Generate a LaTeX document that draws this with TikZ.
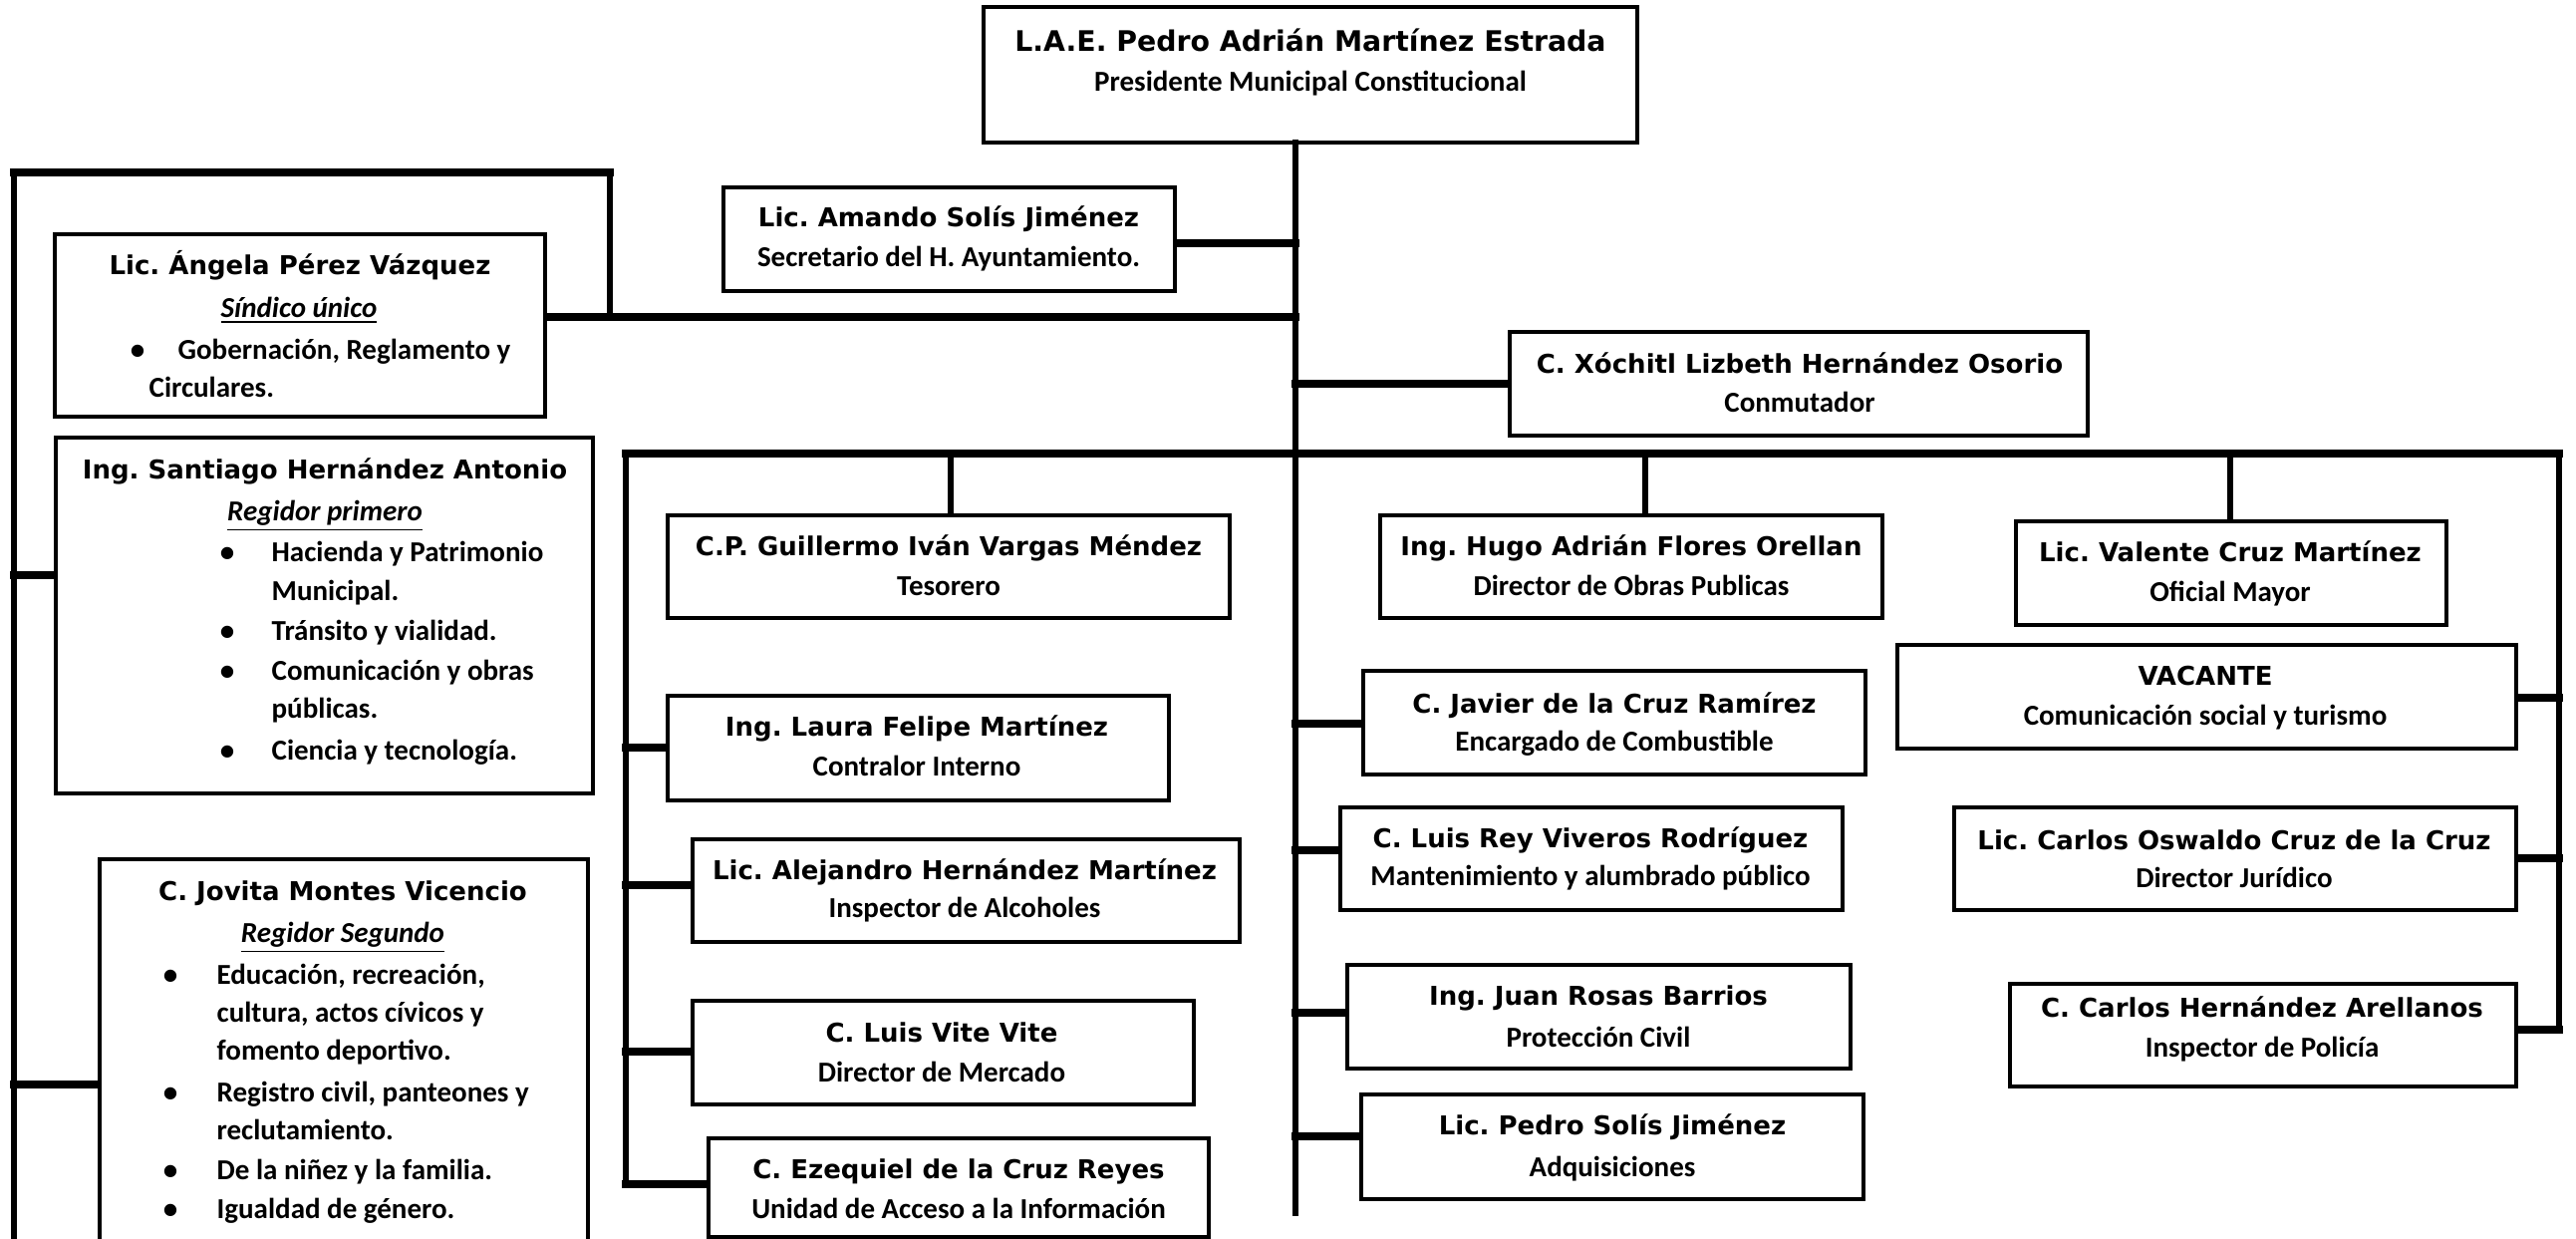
\documentclass[tikz,border=0pt]{standalone}
\usepackage{fontspec}
\setmainfont{Carlito}
\newfontfamily\namefont{DejaVu Sans}
\newcommand\Obox[5]{\node[box, minimum width={(#4-#2)*0.3pt}, minimum height={(#5-#3)*0.3pt}] (#1) at ({(#2+#4)/2},{(#3+#5)/2}) {};}
\newcommand\Oname[4]{\node[tname] (#1) at (#2,#3) {#4};}
\newcommand\Osub[4]{\node[tsub] (#1) at (#2,#3) {#4};}
\newcommand\Oitem[4]{\node[titem] (#1) at (#2,#3) {#4};}
\newcommand\Obul[3]{\node[tsub] (#1) at (#2,#3) {\textbullet};}
\begin{document}
\frenchspacing
\begin{tikzpicture}[x=0.3pt,y=-0.3pt,
  box/.style={draw, line width=1.3pt, rectangle, inner sep=0pt},
  tname/.style={font=\namefont\bfseries\fontsize{7.8}{9}\selectfont, inner sep=0pt, anchor=base},
  tsub/.style={font=\bfseries\fontsize{8.7}{10}\selectfont, inner sep=0pt, anchor=base},
  titem/.style={font=\bfseries\fontsize{8.7}{10}\selectfont, inner sep=0pt, anchor=base west},
  hl/.style={line width=2.2pt, line cap=rect},
  vl/.style={line width=1.7pt, line cap=rect}]
\fill[white] (0,0) rectangle (2585,1243);
\useasboundingbox (0,0) rectangle (2585,1243);
\clip (0,0) rectangle (2585,1243);

% ---------- boxes ----------
\Obox{pres}{987}{7}{1643}{143}
\Obox{sec}{726}{188}{1179}{292}
\Obox{sind}{55}{235}{547}{418}
\Obox{sant}{56}{439}{595}{796}
\Obox{jov}{100}{862}{590}{1262}
\Obox{xoch}{1515}{333}{2095}{437}
\Obox{teso}{670}{517}{1234}{620}
\Obox{laura}{670}{698}{1173}{803}
\Obox{alej}{695}{842}{1244}{945}
\Obox{vite}{695}{1004}{1198}{1108}
\Obox{ezeq}{711}{1142}{1213}{1241}
\Obox{hugo}{1385}{517}{1889}{620}
\Obox{vale}{2023}{523}{2455}{627}
\Obox{vac}{1904}{647}{2525}{751}
\Obox{jav}{1368}{673}{1872}{777}
\Obox{lrey}{1345}{810}{1849}{913}
\Obox{osw}{1961}{810}{2525}{913}
\Obox{juan}{1352}{968}{1857}{1072}
\Obox{pedro}{1366}{1098}{1870}{1203}
\Obox{carh}{2017}{987}{2525}{1090}

% ---------- junction coordinates ----------
\coordinate (trTop) at (1300,143);
\coordinate (trEnd) at (1300,1217);
\coordinate (jSec) at (1300,244);
\coordinate (jSind) at (1300,318);
\coordinate (jXoch) at (1300,385);
\coordinate (jJav) at (1300,726);
\coordinate (jLrey) at (1300,853);
\coordinate (jJuan) at (1300,1016);
\coordinate (jPedro) at (1300,1140);
\coordinate (brR) at (612,318);
\coordinate (brTR) at (612,173);
\coordinate (brTL) at (14,173);
\coordinate (brBot) at (14,1250);
\coordinate (jSant) at (14,577);
\coordinate (jJov) at (14,1088);
\coordinate (busL) at (628,455);
\coordinate (busR) at (2568,455);
\coordinate (midBot) at (628,1188);
\coordinate (jTeso) at (954,455);
\coordinate (jHugo) at (1651,455);
\coordinate (jVale) at (2238,455);
\coordinate (rBot) at (2568,1033);
\coordinate (jLaura) at (628,750);
\coordinate (jAlej) at (628,888);
\coordinate (jVite) at (628,1055);
\coordinate (jVac) at (2568,700);
\coordinate (jOsw) at (2568,861);

% ---------- connectors ----------
\draw[vl] (trTop) -- (trEnd);
\draw[hl] (sec.east |- jSec) -- (jSec);
\draw[hl] (sind.east |- jSind) -- (jSind);
\draw[hl] (jXoch) -- (xoch.west |- jXoch);
\draw[line width=2.5pt, line cap=rect] (brTL) -- (brTR);
\draw[vl] (brTR) -- (brR);
\draw[vl] (brTL) -- (brBot);
\draw[hl] (jSant) -- (sant.west |- jSant);
\draw[hl] (jJov) -- (jov.west |- jJov);
\draw[hl] (busL) -- (busR);
\draw[vl] (busL) -- (midBot);
\draw[vl] (busR) -- (rBot);
\draw[vl] (jTeso) -- (teso.north -| jTeso);
\draw[vl] (jHugo) -- (hugo.north -| jHugo);
\draw[vl] (jVale) -- (vale.north -| jVale);
\draw[hl] (jLaura) -- (laura.west |- jLaura);
\draw[hl] (jAlej) -- (alej.west |- jAlej);
\draw[hl] (jVite) -- (vite.west |- jVite);
\draw[hl] (midBot) -- (ezeq.west |- midBot);
\draw[hl] (jJav) -- (jav.west |- jJav);
\draw[hl] (jLrey) -- (lrey.west |- jLrey);
\draw[hl] (jJuan) -- (juan.west |- jJuan);
\draw[hl] (jPedro) -- (pedro.west |- jPedro);
\draw[hl] (vac.east |- jVac) -- (jVac);
\draw[hl] (osw.east |- jOsw) -- (jOsw);
\draw[hl] (carh.east |- rBot) -- (rBot);

% ---------- texts ----------
\node[tname, font=\namefont\bfseries\fontsize{8.5}{10}\selectfont] (presA) at (1315,52) {L.A.E. Pedro Adrián Martínez Estrada};
\Osub{presB}{1315}{92}{Presidente Municipal Constitucional}

\Oname{secA}{952}{228}{Lic. Amando Solís Jiménez}
\Osub{secB}{952}{267}{Secretario del H. Ayuntamiento.}

\Oname{sindA}{301}{275}{Lic. Ángela Pérez Vázquez}
\Osub{sindB}{300}{318}{\underline{\itshape Síndico único}}
\Obul{sindC0}{138}{360}
\Oitem{sindC}{178}{360}{Gobernación, Reglamento y}
\Oitem{sindD}{149}{398}{Circulares.}

\Oname{santA}{326}{480}{Ing. Santiago Hernández Antonio}
\Osub{santB}{326}{522}{\underline{\itshape Regidor primero}}
\Obul{santC0}{228}{563}
\Oitem{santC}{272}{563}{Hacienda y Patrimonio}
\Oitem{santD}{272}{602}{Municipal.}
\Obul{santE0}{228}{642}
\Oitem{santE}{272}{642}{Tránsito y vialidad.}
\Obul{santF0}{228}{682}
\Oitem{santF}{272}{682}{Comunicación y obras}
\Oitem{santG}{272}{720}{públicas.}
\Obul{santH0}{228}{762}
\Oitem{santH}{272}{762}{Ciencia y tecnología.}

\Oname{jovA}{344}{903}{C. Jovita Montes Vicencio}
\Osub{jovB}{344}{945}{\underline{\itshape Regidor Segundo}}
\Obul{jovC0}{171}{987}
\Oitem{jovC}{217}{987}{Educación, recreación,}
\Oitem{jovD}{217}{1025}{cultura, actos cívicos y}
\Oitem{jovE}{217}{1063}{fomento deportivo.}
\Obul{jovF0}{171}{1105}
\Oitem{jovF}{217}{1105}{Registro civil, panteones y}
\Oitem{jovG}{217}{1143}{reclutamiento.}
\Obul{jovH0}{171}{1183}
\Oitem{jovH}{217}{1183}{De la niñez y la familia.}
\Obul{jovI0}{171}{1222}
\Oitem{jovI}{217}{1222}{Igualdad de género.}

\Oname{xochA}{1806}{374}{C. Xóchitl Lizbeth Hernández Osorio}
\Osub{xochB}{1806}{413}{Conmutador}

\Oname{tesoA}{952}{557}{C.P. Guillermo Iván Vargas Méndez}
\Osub{tesoB}{952}{597}{Tesorero}

\Oname{lauraA}{920}{738}{Ing. Laura Felipe Martínez}
\Osub{lauraB}{920}{778}{Contralor Interno}

\Oname{alejA}{968}{882}{Lic. Alejandro Hernández Martínez}
\Osub{alejB}{968}{920}{Inspector de Alcoholes}

\Oname{viteA}{945}{1045}{C. Luis Vite Vite}
\Osub{viteB}{945}{1085}{Director de Mercado}

\Oname{ezeqA}{962}{1182}{C. Ezequiel de la Cruz Reyes}
\Osub{ezeqB}{962}{1222}{Unidad de Acceso a la Información}

\Oname{hugoA}{1637}{557}{Ing. Hugo Adrián Flores Orellan}
\Osub{hugoB}{1637}{597}{Director de Obras Publicas}

\Oname{valeA}{2238}{563}{Lic. Valente Cruz Martínez}
\Osub{valeB}{2238}{603}{Oficial Mayor}

\Oname{vacA}{2213}{687}{VACANTE}
\Osub{vacB}{2213}{727}{Comunicación social y turismo}

\Oname{javA}{1620}{715}{C. Javier de la Cruz Ramírez}
\Osub{javB}{1620}{753}{Encargado de Combustible}

\Oname{lreyA}{1596}{850}{C. Luis Rey Viveros Rodríguez}
\Osub{lreyB}{1596}{888}{Mantenimiento y alumbrado público}

\Oname{oswA}{2242}{852}{Lic. Carlos Oswaldo Cruz de la Cruz}
\Osub{oswB}{2242}{890}{Director Jurídico}

\Oname{juanA}{1604}{1008}{Ing. Juan Rosas Barrios}
\Osub{juanB}{1604}{1050}{Protección Civil}

\Oname{pedroA}{1618}{1138}{Lic. Pedro Solís Jiménez}
\Osub{pedroB}{1618}{1180}{Adquisiciones}

\Oname{carhA}{2270}{1020}{C. Carlos Hernández Arellanos}
\Osub{carhB}{2270}{1060}{Inspector de Policía}
\end{tikzpicture}
\end{document}
